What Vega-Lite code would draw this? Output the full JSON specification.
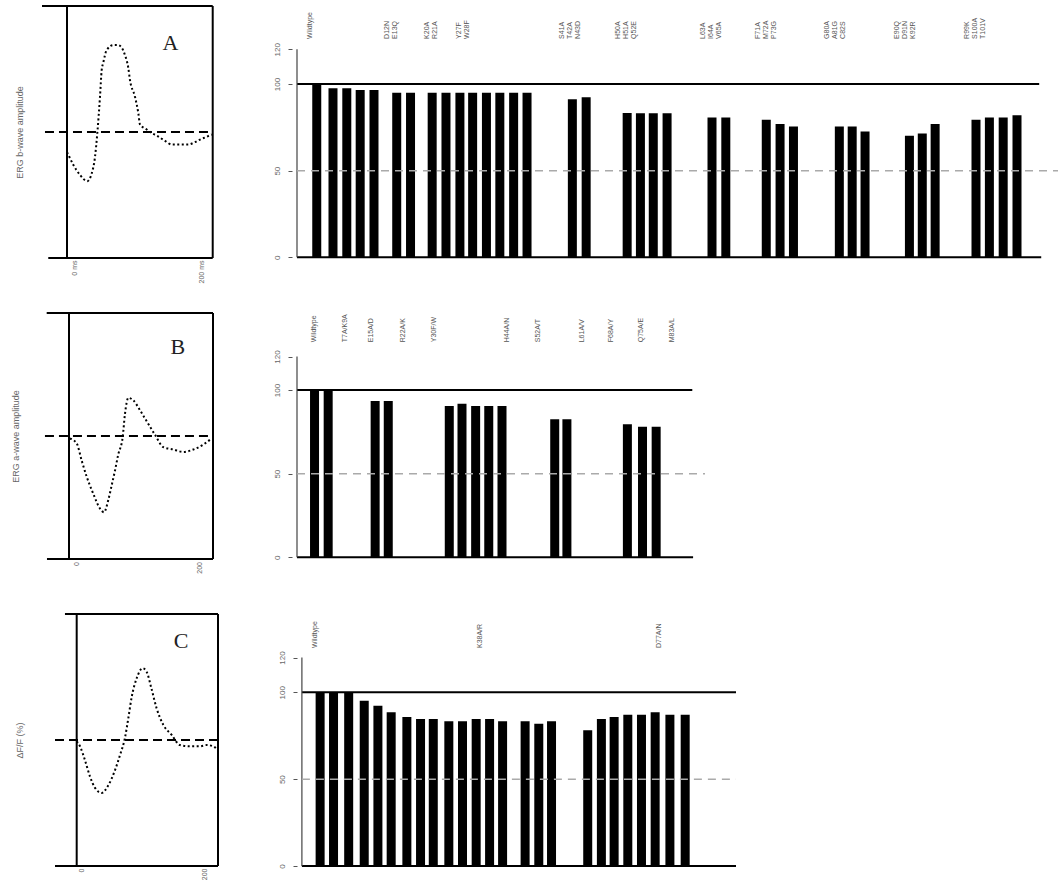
{
  "$schema": "https://vega.github.io/schema/vega-lite/v6.json",
  "background": "white",
  "padding": {"left": 11, "top": 5, "right": 0, "bottom": 0},
  "bounds": "flush",
  "columns": 2,
  "align": "each",
  "spacing": {"row": 55, "column": 74},
  "config": {"view": {"stroke": null}, "font": "Liberation Sans"},
  "datasets": {
    "waveA": [
      {"ms": 0, "amp": -0.16}, {"ms": 1.8, "amp": -0.18}, {"ms": 8.6, "amp": -0.26}, {"ms": 17.8, "amp": -0.34},
      {"ms": 27.9, "amp": -0.39}, {"ms": 33.9, "amp": -0.33}, {"ms": 38.4, "amp": -0.2}, {"ms": 41.6, "amp": -0.01},
      {"ms": 45.3, "amp": 0.28}, {"ms": 47.6, "amp": 0.49}, {"ms": 49.8, "amp": 0.55}, {"ms": 54.4, "amp": 0.65},
      {"ms": 63.6, "amp": 0.69}, {"ms": 70, "amp": 0.69}, {"ms": 75.1, "amp": 0.67}, {"ms": 79.6, "amp": 0.61},
      {"ms": 84.1, "amp": 0.51}, {"ms": 86.5, "amp": 0.41}, {"ms": 93.3, "amp": 0.28}, {"ms": 97.9, "amp": 0.15},
      {"ms": 100.2, "amp": 0.06}, {"ms": 109.4, "amp": 0.02}, {"ms": 116.7, "amp": -0.01}, {"ms": 123.5, "amp": -0.03},
      {"ms": 134.5, "amp": -0.07}, {"ms": 144.1, "amp": -0.1}, {"ms": 155.1, "amp": -0.1}, {"ms": 166.1, "amp": -0.1},
      {"ms": 175.7, "amp": -0.08}, {"ms": 182.6, "amp": -0.06}, {"ms": 190.8, "amp": -0.04}, {"ms": 198.6, "amp": -0.02}
    ],
    "waveB": [
      {"ms": 1.4, "amp": -0.02}, {"ms": 10.7, "amp": -0.06}, {"ms": 17.6, "amp": -0.2}, {"ms": 24.5, "amp": -0.33},
      {"ms": 33.7, "amp": -0.47}, {"ms": 43, "amp": -0.59}, {"ms": 48.5, "amp": -0.62}, {"ms": 54.5, "amp": -0.52},
      {"ms": 59.2, "amp": -0.4}, {"ms": 63.8, "amp": -0.28}, {"ms": 68.3, "amp": -0.15}, {"ms": 74.4, "amp": -0.01},
      {"ms": 77.6, "amp": 0.18}, {"ms": 82.2, "amp": 0.31}, {"ms": 89.1, "amp": 0.29}, {"ms": 98.4, "amp": 0.21},
      {"ms": 107.7, "amp": 0.12}, {"ms": 119.2, "amp": 0.01}, {"ms": 130.7, "amp": -0.09}, {"ms": 144.6, "amp": -0.11},
      {"ms": 158.4, "amp": -0.13}, {"ms": 172.3, "amp": -0.11}, {"ms": 186.1, "amp": -0.07}, {"ms": 197.8, "amp": -0.02}
    ],
    "waveC": [
      {"ms": 0, "amp": -0.01}, {"ms": 4.7, "amp": -0.05}, {"ms": 11.7, "amp": -0.16}, {"ms": 18.8, "amp": -0.29},
      {"ms": 25.9, "amp": -0.38}, {"ms": 35.4, "amp": -0.42}, {"ms": 44.7, "amp": -0.36}, {"ms": 54.2, "amp": -0.24},
      {"ms": 61.3, "amp": -0.12}, {"ms": 68.4, "amp": 0.02}, {"ms": 73, "amp": 0.17}, {"ms": 77.8, "amp": 0.34},
      {"ms": 84.9, "amp": 0.49}, {"ms": 93.4, "amp": 0.57}, {"ms": 99.1, "amp": 0.54}, {"ms": 106.2, "amp": 0.4},
      {"ms": 113.2, "amp": 0.25}, {"ms": 122.6, "amp": 0.12}, {"ms": 134.5, "amp": 0.04}, {"ms": 146.2, "amp": -0.04},
      {"ms": 160.4, "amp": -0.05}, {"ms": 174.5, "amp": -0.05}, {"ms": 184, "amp": -0.04}, {"ms": 193.3, "amp": -0.05},
      {"ms": 198.2, "amp": -0.07}
    ],
    "barsA": [
      {"pos": 1.46, "pct": 100}, {"pos": 2.66, "pct": 97.5}, {"pos": 3.68, "pct": 97.5}, {"pos": 4.67, "pct": 96.5},
      {"pos": 5.69, "pct": 96.5}, {"pos": 7.37, "pct": 95}, {"pos": 8.39, "pct": 95}, {"pos": 9.99, "pct": 95},
      {"pos": 11.01, "pct": 95}, {"pos": 12.04, "pct": 95}, {"pos": 12.98, "pct": 95}, {"pos": 14.0, "pct": 95},
      {"pos": 14.99, "pct": 95}, {"pos": 16.01, "pct": 95}, {"pos": 17.0, "pct": 95}, {"pos": 20.35, "pct": 91.2},
      {"pos": 21.37, "pct": 92.3}, {"pos": 24.4, "pct": 83.3}, {"pos": 25.38, "pct": 83.1}, {"pos": 26.33, "pct": 83.1},
      {"pos": 27.35, "pct": 83.1}, {"pos": 30.67, "pct": 80.7}, {"pos": 31.69, "pct": 80.7}, {"pos": 34.68, "pct": 79.4},
      {"pos": 35.7, "pct": 76.9}, {"pos": 36.69, "pct": 75.5}, {"pos": 40.08, "pct": 75.5}, {"pos": 41.03, "pct": 75.5},
      {"pos": 41.98, "pct": 72.6}, {"pos": 45.26, "pct": 70.1}, {"pos": 46.21, "pct": 71.4}, {"pos": 47.16, "pct": 76.9},
      {"pos": 50.18, "pct": 79.4}, {"pos": 51.17, "pct": 80.7}, {"pos": 52.19, "pct": 80.7}, {"pos": 53.21, "pct": 82}
    ],
    "barsB": [
      {"pos": 1.31, "pct": 100}, {"pos": 2.33, "pct": 100}, {"pos": 5.84, "pct": 93.4}, {"pos": 6.82, "pct": 93.4},
      {"pos": 11.38, "pct": 90.4}, {"pos": 12.33, "pct": 91.8}, {"pos": 13.35, "pct": 90.4}, {"pos": 14.33, "pct": 90.4},
      {"pos": 15.32, "pct": 90.4}, {"pos": 19.26, "pct": 82.5}, {"pos": 20.17, "pct": 82.5}, {"pos": 24.69, "pct": 79.5},
      {"pos": 25.82, "pct": 78.1}, {"pos": 26.84, "pct": 78.1}
    ],
    "barsC": [
      {"pos": 1.36, "pct": 100}, {"pos": 2.36, "pct": 100}, {"pos": 3.49, "pct": 100}, {"pos": 4.65, "pct": 95.2},
      {"pos": 5.67, "pct": 92.3}, {"pos": 6.66, "pct": 88.5}, {"pos": 7.83, "pct": 85.8}, {"pos": 8.85, "pct": 84.6},
      {"pos": 9.8, "pct": 84.6}, {"pos": 10.96, "pct": 83.3}, {"pos": 11.98, "pct": 83.3}, {"pos": 13.0, "pct": 84.6},
      {"pos": 14.0, "pct": 84.6}, {"pos": 14.97, "pct": 83.3}, {"pos": 16.65, "pct": 83.3}, {"pos": 17.67, "pct": 81.9},
      {"pos": 18.62, "pct": 83.3}, {"pos": 21.32, "pct": 78.1}, {"pos": 22.34, "pct": 84.6}, {"pos": 23.29, "pct": 85.8},
      {"pos": 24.31, "pct": 87.1}, {"pos": 25.33, "pct": 87.1}, {"pos": 26.35, "pct": 88.5}, {"pos": 27.45, "pct": 87.1},
      {"pos": 28.59, "pct": 87.1}
    ],
    "labelsA": [
      {"pos": 0.95, "label": ["Wildtype"]},
      {"pos": 6.67, "label": ["D12N", "E13Q"]},
      {"pos": 9.59, "label": ["K20A", "R21A"]},
      {"pos": 11.96, "label": ["Y27F", "W28F"]},
      {"pos": 19.62, "label": ["S41A", "T42A", "N43D"]},
      {"pos": 23.74, "label": ["H50A", "H51A", "Q52E"]},
      {"pos": 30.0, "label": ["L63A", "I64A", "V65A"]},
      {"pos": 34.1, "label": ["F71A", "M72A", "P73G"]},
      {"pos": 39.17, "label": ["G80A", "A81G", "C82S"]},
      {"pos": 44.35, "label": ["E90Q", "D91N", "K92R"]},
      {"pos": 49.53, "label": ["R99K", "S100A", "T101V"]}
    ],
    "labelsB": [
      {"pos": 1.24, "label": "Wildtype"}, {"pos": 3.57, "label": "T7A/K9A"}, {"pos": 5.51, "label": "E15A/D"},
      {"pos": 7.95, "label": "R22A/K"}, {"pos": 10.25, "label": "Y30F/W"}, {"pos": 15.68, "label": "H44A/N"},
      {"pos": 17.98, "label": "S52A/T"}, {"pos": 21.3, "label": "L61A/V"}, {"pos": 23.49, "label": "F68A/Y"},
      {"pos": 25.67, "label": "Q75A/E"}, {"pos": 28.0, "label": "M83A/L"}
    ],
    "labelsC": [
      {"pos": 0.97, "label": "Wildtype"}, {"pos": 13.3, "label": "K38A/R"}, {"pos": 26.6, "label": "D77A/N"}
    ],
    "ticksA": [{"ms": 11, "label": "0 ms"}, {"ms": 185, "label": "200 ms"}],
    "ticksB": [{"ms": 10.7, "label": "0"}, {"ms": 181.6, "label": "200"}],
    "ticksC": [{"ms": 7.1, "label": "0"}, {"ms": 181.6, "label": "200"}]
  },
  "concat": [
    {
      "width": 171, "height": 252,
      "layer": [
        {
          "data": {"name": "waveA"},
          "mark": {"type": "line", "color": "black", "strokeWidth": 2, "strokeDash": [2, 2.5], "interpolate": "monotone"},
          "encoding": {
            "x": {"field": "ms", "type": "quantitative", "scale": {"domain": [-34.3, 200.4], "nice": false, "zero": false}, "axis": null},
            "y": {"field": "amp", "type": "quantitative", "scale": {"domain": [-1, 1], "nice": false, "zero": false},
                  "axis": {"title": "ERG b-wave amplitude", "labels": false, "ticks": false, "domain": false, "grid": false, "titlePadding": 18, "titleFontSize": 9, "titleFontWeight": "normal", "titleColor": "#666"}}
          }
        },
        {"data": {"values": [{}]}, "mark": {"type": "rule", "color": "black", "strokeWidth": 2},
         "encoding": {"x": {"datum": -34.3, "axis": null}, "x2": {"datum": 200}, "y": {"datum": 1}}},
        {"data": {"values": [{}]}, "mark": {"type": "rule", "color": "black", "strokeWidth": 2},
         "encoding": {"x": {"datum": -25.7, "axis": null}, "x2": {"datum": 200}, "y": {"datum": -1}}},
        {"data": {"values": [{}]}, "mark": {"type": "rule", "color": "black", "strokeWidth": 2},
         "encoding": {"x": {"datum": 0, "axis": null}, "y": {"datum": -1}, "y2": {"datum": 1}}},
        {"data": {"values": [{}]}, "mark": {"type": "rule", "color": "black", "strokeWidth": 2},
         "encoding": {"x": {"datum": 200, "axis": null}, "y": {"datum": -1}, "y2": {"datum": 1}}},
        {"data": {"values": [{}]}, "mark": {"type": "rule", "color": "black", "strokeWidth": 2, "strokeDash": [9, 5]},
         "encoding": {"x": {"datum": -30.2, "axis": null}, "x2": {"datum": 200}, "y": {"datum": 0}}},
        {"data": {"values": [{"panel": "A"}]}, "mark": {"type": "text", "font": "Liberation Serif", "fontSize": 22, "color": "#222", "align": "center", "baseline": "middle"},
         "encoding": {"x": {"datum": 142, "axis": null}, "y": {"datum": 0.706}, "text": {"field": "panel"}}},
        {"data": {"name": "ticksA"}, "mark": {"type": "text", "angle": 270, "align": "right", "baseline": "middle", "fontSize": 7, "color": "#666"},
         "encoding": {"x": {"field": "ms", "type": "quantitative", "axis": null}, "y": {"datum": -1.02}, "text": {"field": "label"}}}
      ]
    },
    {
      "width": 771, "height": 252,
      "layer": [
        {
          "data": {"name": "barsA"},
          "mark": {"type": "bar", "color": "black", "size": 9},
          "encoding": {
            "x": {"field": "pos", "type": "quantitative", "scale": {"domain": [0, 56.24], "nice": false, "zero": false}, "axis": null},
            "y": {"field": "pct", "type": "quantitative", "scale": {"domain": [-0.4, 145], "nice": false, "zero": false},
                  "axis": {"title": null, "values": [0, 50, 100, 120], "domain": false, "grid": false, "tickSize": 4, "tickColor": "#555", "labelAngle": 270, "labelFontSize": 8, "labelColor": "#666", "labelPadding": 7}}
          }
        },
        {"data": {"values": [{}]}, "mark": {"type": "rule", "color": "black", "strokeWidth": 2},
         "encoding": {"x": {"datum": 0, "axis": null}, "x2": {"datum": 54.85}, "y": {"datum": 100}}},
        {"data": {"values": [{}]}, "mark": {"type": "rule", "color": "black", "strokeWidth": 2},
         "encoding": {"x": {"datum": 0, "axis": null}, "x2": {"datum": 55}, "y": {"datum": 0}}},
        {"data": {"values": [{}]}, "mark": {"type": "rule", "color": "#444", "strokeWidth": 1.2},
         "encoding": {"x": {"datum": 0, "axis": null}, "y": {"datum": 0}, "y2": {"datum": 120}}},
        {"data": {"values": [{}]}, "mark": {"type": "rule", "color": "#aaa", "strokeWidth": 1.5, "strokeDash": [8, 6]},
         "encoding": {"x": {"datum": 0, "axis": null}, "x2": {"datum": 56.24}, "y": {"datum": 50}}},
        {"data": {"name": "labelsA"}, "mark": {"type": "text", "angle": 270, "align": "left", "baseline": "middle", "fontSize": 7, "lineHeight": 8, "color": "#555"},
         "encoding": {"x": {"field": "pos", "type": "quantitative", "axis": null}, "y": {"datum": 126}, "text": {"field": "label"}}}
      ]
    },
    {
      "width": 171, "height": 246,
      "layer": [
        {
          "data": {"name": "waveB"},
          "mark": {"type": "line", "color": "black", "strokeWidth": 2, "strokeDash": [2, 2.5], "interpolate": "monotone"},
          "encoding": {
            "x": {"field": "ms", "type": "quantitative", "scale": {"domain": [-37.4, 199.6], "nice": false, "zero": false}, "axis": null},
            "y": {"field": "amp", "type": "quantitative", "scale": {"domain": [-1, 1], "nice": false, "zero": false},
                  "axis": {"title": "ERG a-wave amplitude", "labels": false, "ticks": false, "domain": false, "grid": false, "titlePadding": 22, "titleFontSize": 9, "titleFontWeight": "normal", "titleColor": "#666"}}
          }
        },
        {"data": {"values": [{}]}, "mark": {"type": "rule", "color": "black", "strokeWidth": 2},
         "encoding": {"x": {"datum": -30.9, "axis": null}, "x2": {"datum": 199.6}, "y": {"datum": 1}}},
        {"data": {"values": [{}]}, "mark": {"type": "rule", "color": "black", "strokeWidth": 2},
         "encoding": {"x": {"datum": -30.5, "axis": null}, "x2": {"datum": 199.6}, "y": {"datum": -1}}},
        {"data": {"values": [{}]}, "mark": {"type": "rule", "color": "black", "strokeWidth": 2},
         "encoding": {"x": {"datum": 0, "axis": null}, "y": {"datum": -1}, "y2": {"datum": 1}}},
        {"data": {"values": [{}]}, "mark": {"type": "rule", "color": "black", "strokeWidth": 2},
         "encoding": {"x": {"datum": 199.6, "axis": null}, "y": {"datum": -1}, "y2": {"datum": 1}}},
        {"data": {"values": [{}]}, "mark": {"type": "rule", "color": "black", "strokeWidth": 2, "strokeDash": [9, 5]},
         "encoding": {"x": {"datum": -33.3, "axis": null}, "x2": {"datum": 199.6}, "y": {"datum": 0}}},
        {"data": {"values": [{"panel": "B"}]}, "mark": {"type": "text", "font": "Liberation Serif", "fontSize": 22, "color": "#222", "align": "center", "baseline": "middle"},
         "encoding": {"x": {"datum": 151, "axis": null}, "y": {"datum": 0.72}, "text": {"field": "panel"}}},
        {"data": {"name": "ticksB"}, "mark": {"type": "text", "angle": 270, "align": "right", "baseline": "middle", "fontSize": 7, "color": "#666"},
         "encoding": {"x": {"field": "ms", "type": "quantitative", "axis": null}, "y": {"datum": -1.025}, "text": {"field": "label"}}}
      ]
    },
    {
      "width": 418, "height": 246,
      "layer": [
        {
          "data": {"name": "barsB"},
          "mark": {"type": "bar", "color": "black", "size": 9},
          "encoding": {
            "x": {"field": "pos", "type": "quantitative", "scale": {"domain": [0, 30.49], "nice": false, "zero": false}, "axis": null},
            "y": {"field": "pct", "type": "quantitative", "scale": {"domain": [-1, 146], "nice": false, "zero": false},
                  "axis": {"title": null, "values": [0, 50, 100, 120], "domain": false, "grid": false, "tickSize": 4, "tickColor": "#555", "labelAngle": 270, "labelFontSize": 8, "labelColor": "#666", "labelPadding": 7}}
          }
        },
        {"data": {"values": [{}]}, "mark": {"type": "rule", "color": "black", "strokeWidth": 2},
         "encoding": {"x": {"datum": 0, "axis": null}, "x2": {"datum": 29.54}, "y": {"datum": 100}}},
        {"data": {"values": [{}]}, "mark": {"type": "rule", "color": "black", "strokeWidth": 2},
         "encoding": {"x": {"datum": 0, "axis": null}, "x2": {"datum": 29.6}, "y": {"datum": 0}}},
        {"data": {"values": [{}]}, "mark": {"type": "rule", "color": "#444", "strokeWidth": 1.2},
         "encoding": {"x": {"datum": 0, "axis": null}, "y": {"datum": 0}, "y2": {"datum": 120}}},
        {"data": {"values": [{}]}, "mark": {"type": "rule", "color": "#aaa", "strokeWidth": 1.5, "strokeDash": [8, 6]},
         "encoding": {"x": {"datum": 0, "axis": null}, "x2": {"datum": 30.49}, "y": {"datum": 50}}},
        {"data": {"name": "labelsB"}, "mark": {"type": "text", "angle": 270, "align": "left", "baseline": "middle", "fontSize": 7, "color": "#555"},
         "encoding": {"x": {"field": "pos", "type": "quantitative", "axis": null}, "y": {"datum": 128.5}, "text": {"field": "label"}}}
      ]
    },
    {
      "width": 176, "height": 252,
      "layer": [
        {
          "data": {"name": "waveC"},
          "mark": {"type": "line", "color": "black", "strokeWidth": 2, "strokeDash": [2, 2.5], "interpolate": "monotone"},
          "encoding": {
            "x": {"field": "ms", "type": "quantitative", "scale": {"domain": [-49.1, 200], "nice": false, "zero": false}, "axis": null},
            "y": {"field": "amp", "type": "quantitative", "scale": {"domain": [-1, 1], "nice": false, "zero": false},
                  "axis": {"title": "ΔF/F (%)", "labels": false, "ticks": false, "domain": false, "grid": false, "titlePadding": 18, "titleFontSize": 9, "titleFontWeight": "normal", "titleColor": "#666"}}
          }
        },
        {"data": {"values": [{}]}, "mark": {"type": "rule", "color": "black", "strokeWidth": 2},
         "encoding": {"x": {"datum": -16.6, "axis": null}, "x2": {"datum": 200}, "y": {"datum": 1}}},
        {"data": {"values": [{}]}, "mark": {"type": "rule", "color": "black", "strokeWidth": 2},
         "encoding": {"x": {"datum": -30.7, "axis": null}, "x2": {"datum": 200}, "y": {"datum": -1}}},
        {"data": {"values": [{}]}, "mark": {"type": "rule", "color": "black", "strokeWidth": 2},
         "encoding": {"x": {"datum": 0, "axis": null}, "y": {"datum": -1}, "y2": {"datum": 1}}},
        {"data": {"values": [{}]}, "mark": {"type": "rule", "color": "black", "strokeWidth": 2},
         "encoding": {"x": {"datum": 200, "axis": null}, "y": {"datum": -1}, "y2": {"datum": 1}}},
        {"data": {"values": [{}]}, "mark": {"type": "rule", "color": "black", "strokeWidth": 2, "strokeDash": [9, 5]},
         "encoding": {"x": {"datum": -30.7, "axis": null}, "x2": {"datum": 200}, "y": {"datum": 0}}},
        {"data": {"values": [{"panel": "C"}]}, "mark": {"type": "text", "font": "Liberation Serif", "fontSize": 22, "color": "#222", "align": "center", "baseline": "middle"},
         "encoding": {"x": {"datum": 147.6, "axis": null}, "y": {"datum": 0.786}, "text": {"field": "panel"}}},
        {"data": {"name": "ticksC"}, "mark": {"type": "text", "angle": 270, "align": "right", "baseline": "middle", "fontSize": 7, "color": "#666"},
         "encoding": {"x": {"field": "ms", "type": "quantitative", "axis": null}, "y": {"datum": -1.02}, "text": {"field": "label"}}}
      ]
    },
    {
      "width": 449, "height": 252,
      "layer": [
        {
          "data": {"name": "barsC"},
          "mark": {"type": "bar", "color": "black", "size": 9},
          "encoding": {
            "x": {"field": "pos", "type": "quantitative", "scale": {"domain": [-0.365, 32.38], "nice": false, "zero": false}, "axis": null},
            "y": {"field": "pct", "type": "quantitative", "scale": {"domain": [0, 145.1], "nice": false, "zero": false},
                  "axis": {"title": null, "values": [0, 50, 100, 120], "offset": -5, "domain": false, "grid": false, "tickSize": 4, "tickColor": "#555", "labelAngle": 270, "labelFontSize": 8, "labelColor": "#666", "labelPadding": 7}}
          }
        },
        {"data": {"values": [{}]}, "mark": {"type": "rule", "color": "black", "strokeWidth": 2},
         "encoding": {"x": {"datum": 0, "axis": null}, "x2": {"datum": 32.38}, "y": {"datum": 100}}},
        {"data": {"values": [{}]}, "mark": {"type": "rule", "color": "black", "strokeWidth": 2},
         "encoding": {"x": {"datum": 0, "axis": null}, "x2": {"datum": 32.38}, "y": {"datum": 0}}},
        {"data": {"values": [{}]}, "mark": {"type": "rule", "color": "#444", "strokeWidth": 1.2},
         "encoding": {"x": {"datum": 0, "axis": null}, "y": {"datum": 0}, "y2": {"datum": 120}}},
        {"data": {"values": [{}]}, "mark": {"type": "rule", "color": "#aaa", "strokeWidth": 1.5, "strokeDash": [8, 6]},
         "encoding": {"x": {"datum": 0, "axis": null}, "x2": {"datum": 32.38}, "y": {"datum": 50}}},
        {"data": {"name": "labelsC"}, "mark": {"type": "text", "angle": 270, "align": "left", "baseline": "middle", "fontSize": 7, "color": "#555"},
         "encoding": {"x": {"field": "pos", "type": "quantitative", "axis": null}, "y": {"datum": 125.5}, "text": {"field": "label"}}}
      ]
    }
  ]
}
